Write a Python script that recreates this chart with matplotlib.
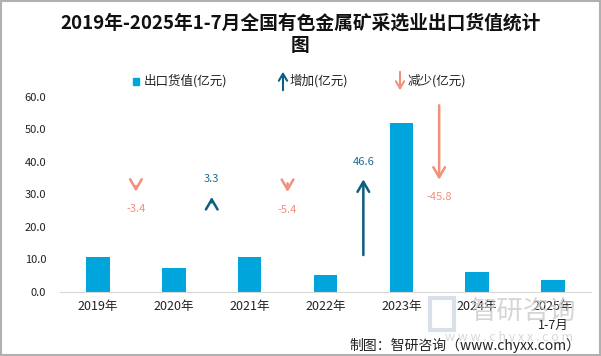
import matplotlib
matplotlib.use('Agg')
import matplotlib.pyplot as plt
import matplotlib.patches as patches
from matplotlib.lines import Line2D

plt.rcParams['font.family'] = ['Noto Sans CJK SC', 'DejaVu Sans']

# ── data ───────────────────────────────────────────────────────────────────────
years = ['2019年', '2020年', '2021年', '2022年', '2023年', '2024年', '2025年\n1-7月']
export_value = [10.8, 7.4, 10.7, 5.3, 51.9, 6.1, 3.7]   # 亿元
changes = [-3.4, 3.3, -5.4, 46.6, -45.8]                 # year-on-year change shown as arrows
arrow_mid = [31.7, 28.4, 32.1, 23.0, 46.0]               # vertical centre of each arrow

BAR_COLOR = '#00A5DB'
UP_COLOR = '#0B5F80'
UP_TEXT = '#1E6B94'
DOWN_COLOR = '#F2917A'

fig = plt.figure(figsize=(6.01, 3.56), dpi=100)
ax = fig.add_axes([0.1, 0.18, 0.883, 0.5475])

x = list(range(len(years)))
ax.bar(x, export_value, width=0.31, color=BAR_COLOR, zorder=2)

# change arrows between bars, length = half of the change
for i, (d, mid) in enumerate(zip(changes, arrow_mid)):
    xp = i + 0.5
    half = abs(d) / 4
    if d > 0:
        tail, tip, col, tcol, ty = mid - half, mid + half, UP_COLOR, UP_TEXT, mid + half + 5.4
    else:
        tail, tip, col, tcol, ty = mid + half, mid - half, DOWN_COLOR, DOWN_COLOR, mid - half - 5.4
    ax.annotate('', xy=(xp, tip), xytext=(xp, tail),
                arrowprops=dict(arrowstyle='->,head_width=0.35,head_length=0.6',
                                color=col, lw=1.8, shrinkA=0, shrinkB=0,
                                mutation_scale=12), zorder=3)
    ax.text(xp, ty, f'{d:.1f}', ha='center', va='center', fontsize=8, color=tcol)

ax.set_xlim(-0.5, 6.5)
ax.set_ylim(0, 60)
ax.set_yticks(range(0, 61, 10))
ax.set_yticklabels([f'{v:.1f}' for v in range(0, 61, 10)], fontsize=8, color='#222222')
ax.set_xticks(x)
ax.set_xticklabels(years, fontsize=9, color='#222222', linespacing=1.6)
ax.tick_params(length=0, pad=10)
ax.tick_params(axis='x', pad=6)
for s in ['top', 'right', 'left']:
    ax.spines[s].set_visible(False)
ax.spines['bottom'].set_color('#d9d9d9')

# ── title ──────────────────────────────────────────────────────────────────────
fig.text(0.5, 0.935, '2019年-2025年1-7月全国有色金属矿采选业出口货值统计', ha='center', va='center',
         fontsize=13.5, fontweight='bold', color='#111111')
fig.text(0.5, 0.872, '图', ha='center', va='center', fontsize=13.5, fontweight='bold', color='#111111')

# ── legend (drawn by hand) ─────────────────────────────────────────────────────
ly = 1 - 81 / 356
W, H = 601, 356
fig.patches.append(patches.Rectangle((133 / W, ly - 3.5 / H), 6 / W, 7 / H, color=BAR_COLOR,
                                     transform=fig.transFigure, figure=fig))
fig.text(144 / W, ly, '出口货值(亿元)', va='center', fontsize=9, color='#222222')
fig.add_artist(patches.FancyArrowPatch((283 / W, ly - 12 / H), (283 / W, ly + 12 / H),
                                       transform=fig.transFigure, arrowstyle='->,head_width=0.3,head_length=0.5',
                                       color=UP_COLOR, lw=1.5, mutation_scale=10))
fig.text(290 / W, ly, '增加(亿元)', va='center', fontsize=9, color='#222222')
fig.add_artist(patches.FancyArrowPatch((400 / W, ly + 12 / H), (400 / W, ly - 12 / H),
                                       transform=fig.transFigure, arrowstyle='->,head_width=0.3,head_length=0.5',
                                       color=DOWN_COLOR, lw=1.5, mutation_scale=10))
fig.text(408 / W, ly, '减少(亿元)', va='center', fontsize=9, color='#222222')

# ── watermark + source ─────────────────────────────────────────────────────────
fig.patches.append(patches.Rectangle((430 / W, 1 - 330 / H), 24 / W, 32 / H, fill=False,
                                     edgecolor='#c9d3e0', lw=3, alpha=0.7,
                                     transform=fig.transFigure, figure=fig))
fig.text(524 / W, 1 - 311 / H, '智研咨询', ha='center', va='center', fontsize=19,
         color='#c8c8c8', alpha=0.75)
fig.text(509 / W, 1 - 337 / H, 'w w w . c h y x x . c o m', ha='center', va='center',
         fontsize=9, color='#cfcfcf', alpha=0.8)
fig.text(580 / W, 1 - 345 / H, '制图：智研咨询（www.chyxx.com）', ha='right', va='center',
         fontsize=10, color='#222222')

fig.patches.append(patches.Rectangle((0.001, 0.002), 0.997, 0.995, fill=False,
                                     edgecolor='#b0b0b0', lw=1.5,
                                     transform=fig.transFigure, figure=fig))

fig.savefig('out.png', dpi=100)
